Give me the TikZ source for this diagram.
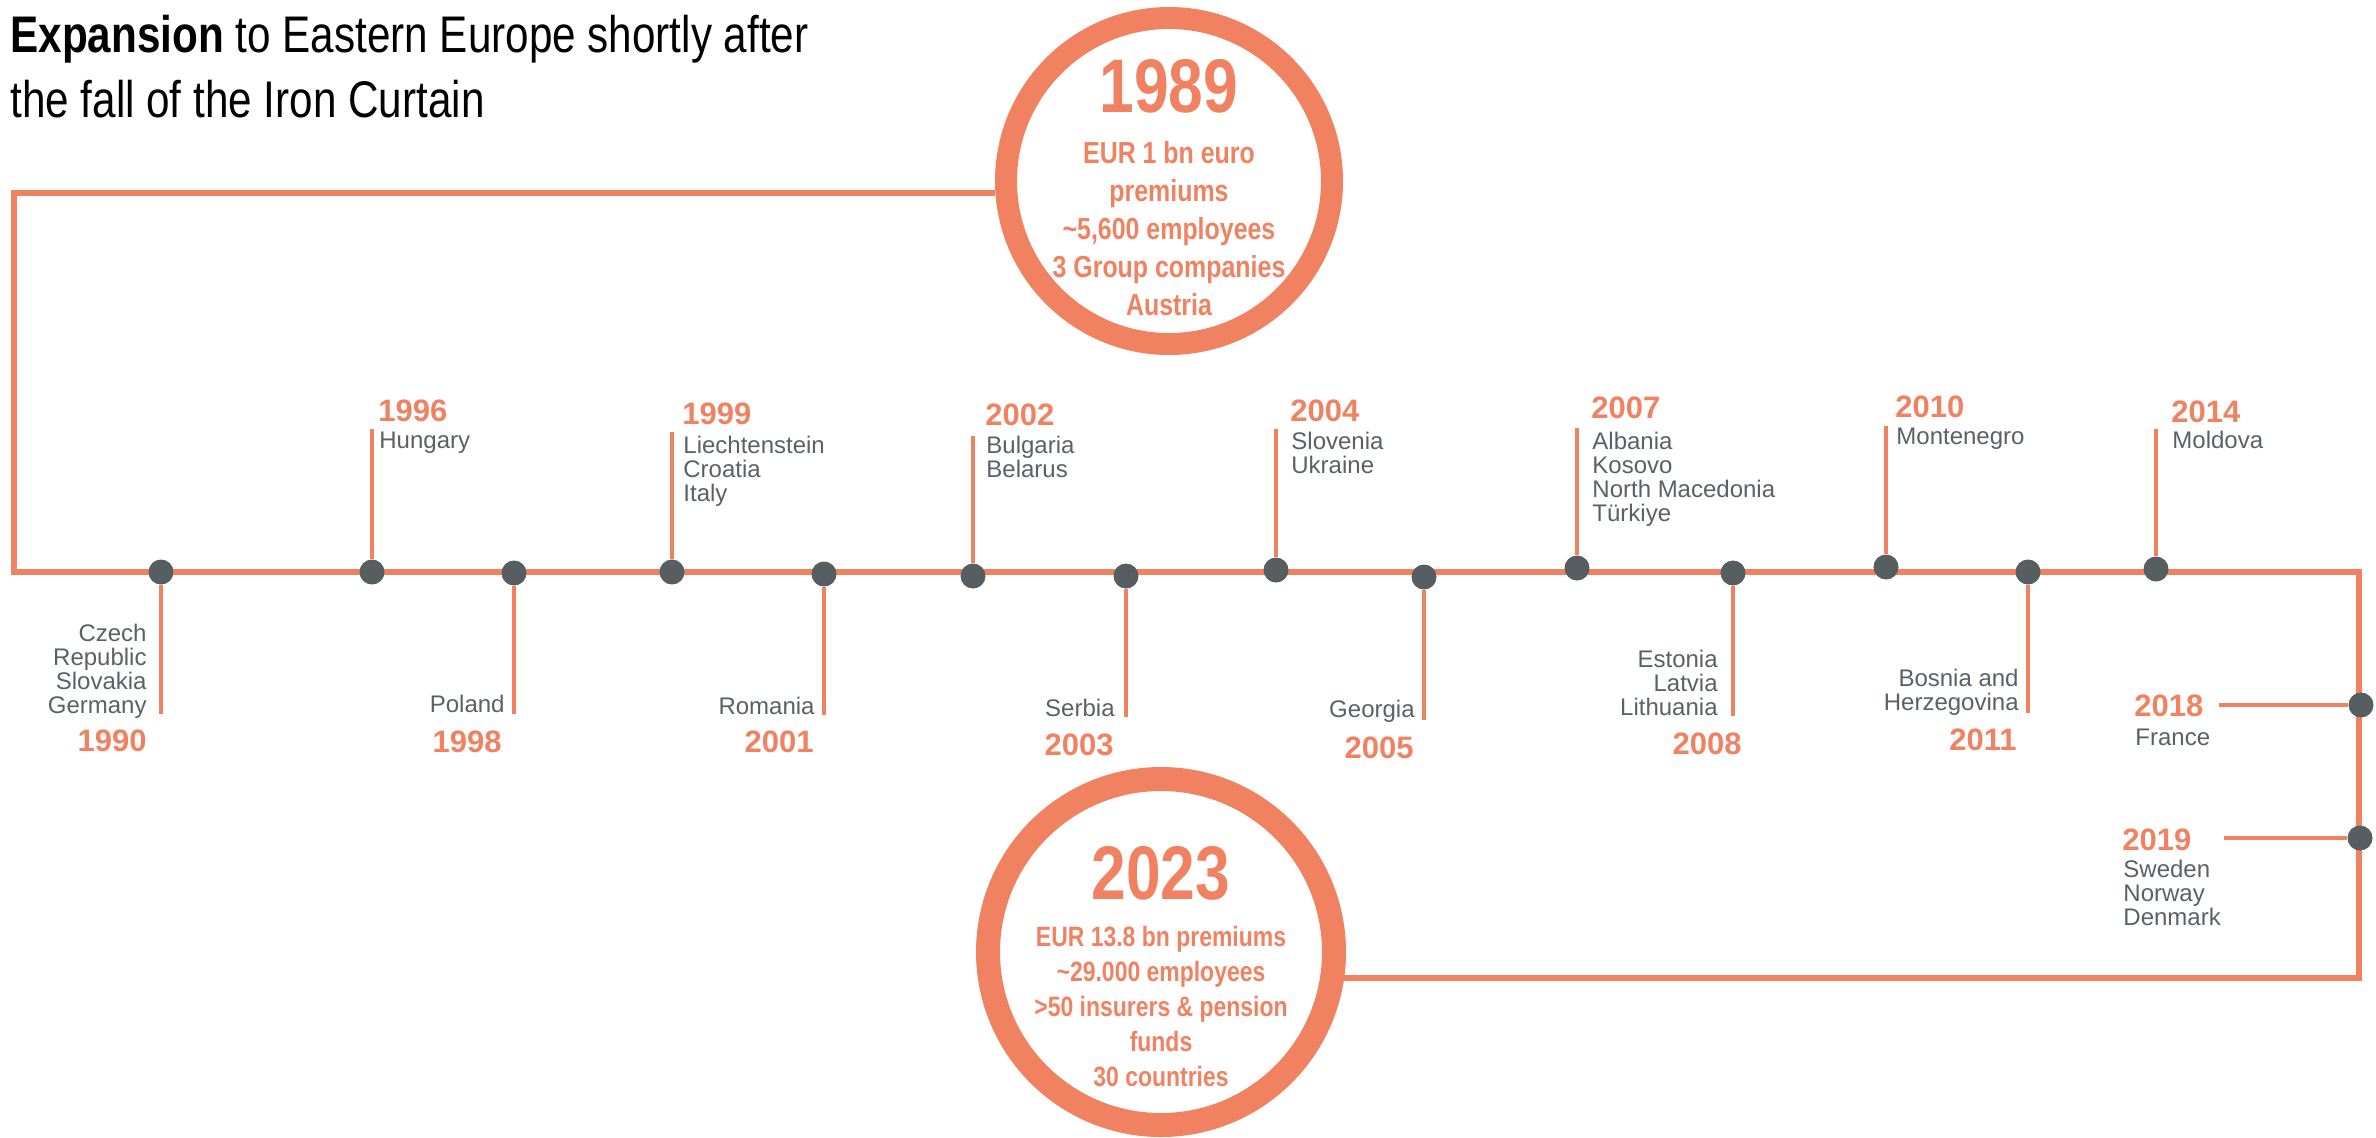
\documentclass[tikz,border=0pt]{standalone}
\usepackage{fontspec}
\setmainfont{Liberation Sans}
\newfontfamily\narrowfont{Liberation Sans}[FakeStretch=0.82]
\definecolor{accent}{HTML}{F08262}
\definecolor{dotgray}{HTML}{565E62}
\definecolor{txtgray}{HTML}{596165}
\tikzset{
  frame/.style={accent, line width=3pt, line join=miter},
  stem/.style={accent, line width=1.75pt},
  tdot/.style={circle, fill=dotgray, minimum size=12.5pt, inner sep=0pt},
  ring/.style={circle, draw=accent, inner sep=0pt},
  yearlbl/.style={text=accent, font=\fontsize{15.5}{15.5}\selectfont\bfseries, inner sep=0pt},
  ctry/.style={text=txtgray, font=\fontsize{12}{12}\selectfont, inner sep=0pt},
  bigyear/.style={text=accent, font=\narrowfont\bfseries\fontsize{38}{38}\selectfont, inner sep=0pt, anchor=base},
}
\begin{document}
\begin{tikzpicture}[x=0.5pt,y=-0.5pt]
\useasboundingbox (0,0) rectangle (2376,1137);

% title
\node[anchor=north west, align=left, inner sep=0pt, font=\narrowfont\fontsize{25.75}{32.5}\selectfont] (title) at (10,15)
  {\textbf{Expansion} to Eastern Europe shortly after\\the fall of the Iron Curtain};

% big circles
\node[ring, minimum size=163pt, line width=11pt] (c1989) at (1169,181) {};
\node[ring, minimum size=173pt, line width=12pt] (c2023) at (1161,952) {};

\node[bigyear] (t1989) at (1169,112) {1989};
\node[text=accent, font=\narrowfont\bfseries\fontsize{15.2}{19}\selectfont, align=center, anchor=north, inner sep=0pt] (i1989) at (1169,141)
  {EUR 1 bn euro\\premiums\\\textasciitilde5,600 employees\\3 Group companies\\Austria};
\node[bigyear] (t2023) at (1161,899) {2023};
\node[text=accent, font=\narrowfont\bfseries\fontsize{14}{17.5}\selectfont, align=center, anchor=north, inner sep=0pt] (i2023) at (1161,926)
  {EUR 13.8 bn premiums\\\textasciitilde29.000 employees\\>50 insurers \& pension\\funds\\30 countries};

% frame
\coordinate (bl) at (14,572);
\coordinate (br) at (2359,572);
\draw[frame] (c1989.184) -| (bl) -- (br) |- (c2023.-8);

% dots
\node[tdot] (d1990) at (161,572) {};
\node[tdot] (d1996) at (372,572) {};
\node[tdot] (d1998) at (514,573) {};
\node[tdot] (d1999) at (672,572) {};
\node[tdot] (d2001) at (824,574) {};
\node[tdot] (d2002) at (973,576) {};
\node[tdot] (d2003) at (1126,576) {};
\node[tdot] (d2004) at (1276,570) {};
\node[tdot] (d2005) at (1424,577) {};
\node[tdot] (d2007) at (1577,568) {};
\node[tdot] (d2008) at (1733,573) {};
\node[tdot] (d2010) at (1886,567) {};
\node[tdot] (d2011) at (2028,572) {};
\node[tdot] (d2014) at (2156,569) {};
\node[tdot] (d2018) at (2361,705) {};
\node[tdot] (d2019) at (2360,838) {};

% stem ends
\coordinate (e1990) at (161,714);
\coordinate (e1996) at (372,429);
\coordinate (e1998) at (514,714);
\coordinate (e1999) at (672,432);
\coordinate (e2001) at (824,715);
\coordinate (e2002) at (973,436);
\coordinate (e2003) at (1126,717);
\coordinate (e2004) at (1276,429);
\coordinate (e2005) at (1424,720);
\coordinate (e2007) at (1577,428);
\coordinate (e2008) at (1733,716);
\coordinate (e2010) at (1886,426);
\coordinate (e2011) at (2028,713);
\coordinate (e2014) at (2156,429);
\coordinate (e2018) at (2219,705);
\coordinate (e2019) at (2224,838);

\foreach \y in {1990,1996,1998,1999,2001,2002,2003,2004,2005,2007,2008,2010,2011,2014,2018,2019}
  \draw[stem] (d\y) -- (e\y);

% labels above the line
\node[yearlbl, anchor=base west] (y1996) at (378,421) {1996};
\node[ctry, anchor=base west] (n1996) at (379,448) {Hungary};

\node[yearlbl, anchor=base west] (y1999) at (682,424) {1999};
\node[ctry, anchor=north west, align=left] (n1999) at (683,436) {Liechtenstein\\Croatia\\Italy};

\node[yearlbl, anchor=base west] (y2002) at (985,425) {2002};
\node[ctry, anchor=north west, align=left] (n2002) at (986,436) {Bulgaria\\Belarus};

\node[yearlbl, anchor=base west] (y2004) at (1290,421) {2004};
\node[ctry, anchor=north west, align=left] (n2004) at (1291,432) {Slovenia\\Ukraine};

\node[yearlbl, anchor=base west] (y2007) at (1591,418) {2007};
\node[ctry, anchor=north west, align=left] (n2007) at (1592,432) {Albania\\Kosovo\\North Macedonia\\Türkiye};

\node[yearlbl, anchor=base west] (y2010) at (1895,417) {2010};
\node[ctry, anchor=base west] (n2010) at (1896,444) {Montenegro};

\node[yearlbl, anchor=base west] (y2014) at (2171,422) {2014};
\node[ctry, anchor=base west] (n2014) at (2172,448) {Moldova};

% labels below the line
\node[ctry, anchor=north east, align=right] (n1990) at (147,624) {Czech\\Republic\\Slovakia\\Germany};
\node[yearlbl, anchor=base east] (y1990) at (147,751) {1990};

\node[ctry, anchor=base east] (n1998) at (505,712) {Poland};
\node[yearlbl, anchor=base east] (y1998) at (502,752) {1998};

\node[ctry, anchor=base east] (n2001) at (815,714) {Romania};
\node[yearlbl, anchor=base east] (y2001) at (814,752) {2001};

\node[ctry, anchor=base east] (n2003) at (1115,716) {Serbia};
\node[yearlbl, anchor=base east] (y2003) at (1114,755) {2003};

\node[ctry, anchor=base east] (n2005) at (1415,717) {Georgia};
\node[yearlbl, anchor=base east] (y2005) at (1414,758) {2005};

\node[ctry, anchor=north east, align=right] (n2008) at (1718,650) {Estonia\\Latvia\\Lithuania};
\node[yearlbl, anchor=base east] (y2008) at (1742,754) {2008};

\node[ctry, anchor=north east, align=right] (n2011) at (2019,669) {Bosnia and\\Herzegovina};
\node[yearlbl, anchor=base east] (y2011) at (2017,750) {2011};

% labels on the right side
\node[yearlbl, anchor=base west] (y2018) at (2134,716) {2018};
\node[ctry, anchor=base west] (n2018) at (2135,745) {France};

\node[yearlbl, anchor=base west] (y2019) at (2122,850) {2019};
\node[ctry, anchor=north west, align=left] (n2019) at (2123,860) {Sweden\\Norway\\Denmark};
\end{tikzpicture}
\end{document}
